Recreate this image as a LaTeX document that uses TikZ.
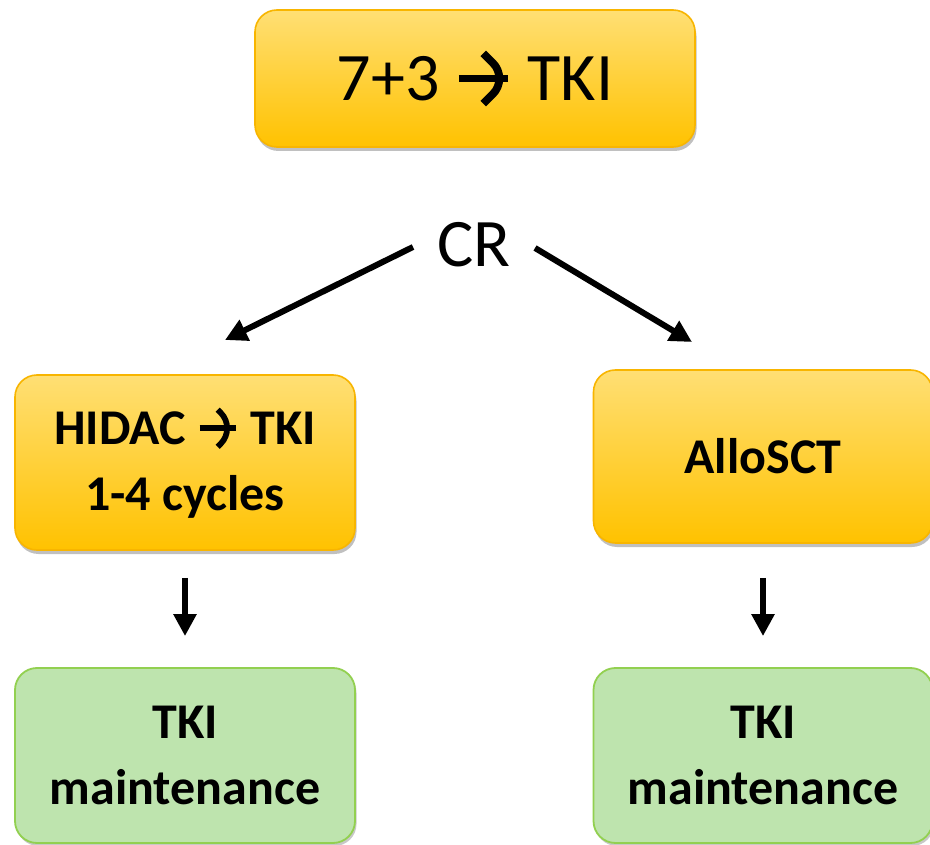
\documentclass[tikz,border=0pt]{standalone}
\usepackage{fontspec}
\setmainfont{Carlito}
\usetikzlibrary{shadows,arrows.meta}
\definecolor{ytop}{HTML}{FFDF74}
\definecolor{ybot}{HTML}{FFC200}
\definecolor{yborder}{HTML}{F8B500}
\definecolor{gfill}{HTML}{BEE4AE}
\definecolor{gborder}{HTML}{92D050}
\newcommand{\rarr}{\tikz[baseline=0pt]{\draw[line width=0.115em] (0,0.32em) -- (0.72em,0.32em); \draw[line width=0.115em, line join=miter] (0.36em,0.69em) -- (0.73em,0.32em) -- (0.36em,-0.05em);}}
\tikzset{
  ybox/.style={rounded corners=22pt, top color=ytop, bottom color=ybot, draw=yborder, line width=1.6pt,
    drop shadow={shadow xshift=1.5pt, shadow yshift=-4pt, opacity=0.35, fill=black!70},
    align=center, inner sep=0pt},
  gbox/.style={rounded corners=22pt, fill=gfill, draw=gborder, line width=1.8pt,
    drop shadow={shadow xshift=1.5pt, shadow yshift=-3pt, opacity=0.3, fill=black!70},
    align=center, inner sep=0pt},
  arr/.style={line width=6pt, -{Triangle[length=22pt,width=22pt]}},
  big/.style={font=\fontsize{68}{82}\selectfont},
  mid/.style={font=\bfseries\fontsize{50}{66}\selectfont},
}
\begin{document}
\begin{tikzpicture}[x=1pt,y=-1pt]
\useasboundingbox (0,0) rectangle (930,845);
\fill[white] (0,0) rectangle (930,845);
\node[ybox, big, minimum width=440pt, minimum height=137pt] (top) at (475,78.5) {7+3 \rarr{} TKI};
\node[big, inner sep=2pt] (cr) at (474,245) {CR};
\node[ybox, mid, minimum width=340pt, minimum height=175pt] (hidac) at (185,462.5) {HIDAC \rarr{} TKI\\1-4 cycles};
\node[ybox, mid, minimum width=339pt, minimum height=173pt] (allo) at (763,456.5) {AlloSCT};
\node[gbox, mid, minimum width=340pt, minimum height=175pt] (mL) at (185,755.5) {TKI\\maintenance};
\node[gbox, mid, minimum width=339pt, minimum height=175pt] (mR) at (763,755.5) {TKI\\maintenance};
\coordinate (crL) at (413,247);
\coordinate (hL) at (225,340);
\coordinate (crR) at (535,248);
\coordinate (aR) at (692,342);
\draw[arr] (crL) -- (hL);
\draw[arr] (crR) -- (aR);
\draw[arr, shorten <=27pt, shorten >=31pt] (hidac.south) -- (mL.north);
\draw[arr, shorten <=34pt, shorten >=31pt] (allo.south) -- (mR.north);
\end{tikzpicture}
\end{document}
